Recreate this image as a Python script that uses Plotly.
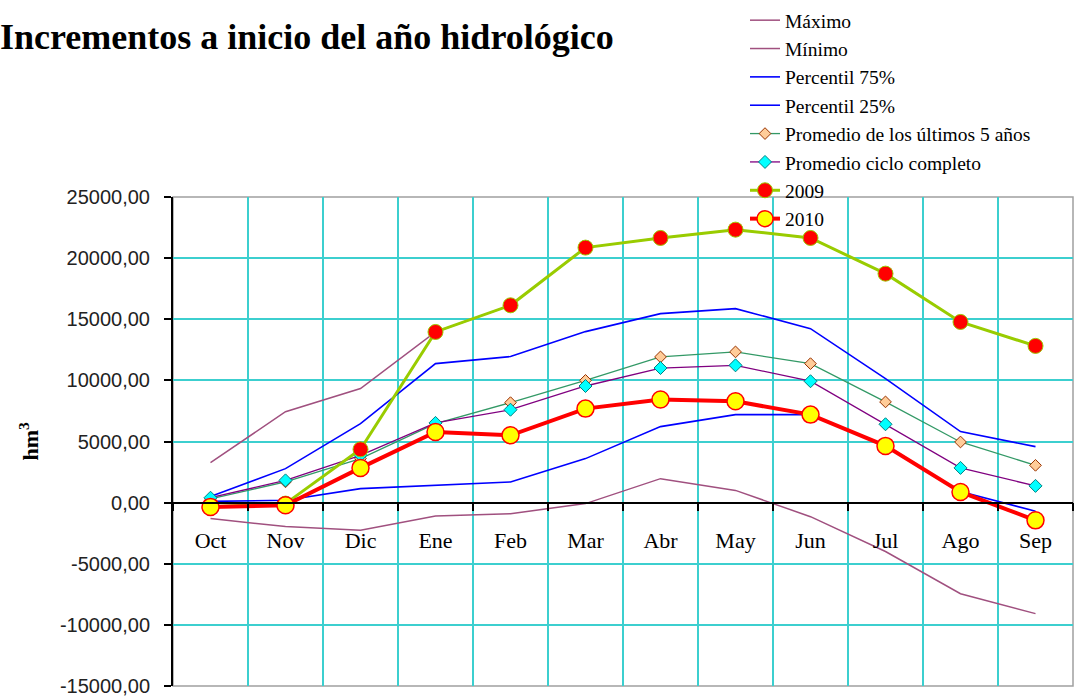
import plotly.graph_objects as go

months = ["Oct", "Nov", "Dic", "Ene", "Feb", "Mar", "Abr", "May", "Jun", "Jul", "Ago", "Sep"]

maximo = [3270, 7440, 9330, 13960, 16140, 20860, 21650, 22330, 21650, 18730, 14780, 12820]
minimo = [-1300, -1960, -2260, -1100, -900, -80, 1960, 1000, -1150, -4000, -7450, -9080]
p75 = [500, 2780, 6460, 11370, 11950, 13990, 15460, 15870, 14230, 10140, 5810, 4580]
p25 = [100, 190, 1145, 1420, 1690, 3600, 6220, 7200, 7200, 4690, 900, -700]
prom5 = [300, 1700, 3600, 6460, 8180, 10000, 11920, 12330, 11370, 8240, 4960, 3050]
prom_ciclo = [400, 1820, 3870, 6520, 7600, 9540, 11010, 11230, 9930, 6410, 2840, 1370]
y2009 = [-330, -80, 4360, 13960, 16140, 20860, 21650, 22330, 21650, 18730, 14780, 12820]
y2010 = [-350, -220, 2840, 5780, 5510, 7690, 8430, 8290, 7200, 4640, 870, -1450]

ytick_vals = [25000, 20000, 15000, 10000, 5000, 0, -5000, -10000, -15000]
ytick_text = ["25000,00", "20000,00", "15000,00", "10000,00", "5000,00", "0,00",
              "-5000,00", "-10000,00", "-15000,00"]

GRID = "#3CCFCF"
MAUVE = "#A0507F"

fig = go.Figure()
fig.add_trace(go.Scatter(x=months, y=maximo, name="Máximo", mode="lines",
                         line=dict(color=MAUVE, width=1.5)))
fig.add_trace(go.Scatter(x=months, y=minimo, name="Mínimo", mode="lines",
                         line=dict(color=MAUVE, width=1.5)))
fig.add_trace(go.Scatter(x=months, y=p75, name="Percentil 75%", mode="lines",
                         line=dict(color="#0000FF", width=1.6)))
fig.add_trace(go.Scatter(x=months, y=p25, name="Percentil 25%", mode="lines",
                         line=dict(color="#0000FF", width=1.6)))
fig.add_trace(go.Scatter(x=months, y=prom5, name="Promedio de los últimos 5 años",
                         mode="lines+markers",
                         line=dict(color="#339966", width=1.3),
                         marker=dict(symbol="diamond", size=9, color="#FFCC99",
                                     line=dict(color="#993300", width=1))))
fig.add_trace(go.Scatter(x=months, y=prom_ciclo, name="Promedio ciclo completo",
                         mode="lines+markers",
                         line=dict(color="#800080", width=1.3),
                         marker=dict(symbol="diamond", size=10, color="#00FFFF",
                                     line=dict(color="#008080", width=1))))
fig.add_trace(go.Scatter(x=months, y=y2009, name="2009", mode="lines+markers",
                         line=dict(color="#99CC00", width=3),
                         marker=dict(symbol="circle", size=15, color="#FF0000",
                                     line=dict(color="#99CC00", width=1))))
fig.add_trace(go.Scatter(x=months, y=y2010, name="2010", mode="lines+markers",
                         line=dict(color="#FF0000", width=4),
                         marker=dict(symbol="circle", size=17, color="#FFFF00",
                                     line=dict(color="#FF0000", width=1.5))))

fig.update_layout(
    width=1076, height=697,
    margin=dict(l=173, r=3, t=197, b=11, autoexpand=False),
    paper_bgcolor="white", plot_bgcolor="white",
    showlegend=True,
    legend=dict(x=(745 - 173) / 900, y=1 + (197 - 1) / 489, xanchor="left", yanchor="top",
                bgcolor="rgba(0,0,0,0)", itemsizing="trace",
                font=dict(family="Liberation Serif", size=19.5, color="black"),
                tracegroupgap=0),
    xaxis=dict(type="category", range=[-0.5, 11.5], tickson="boundaries",
               showgrid=True, gridcolor=GRID, gridwidth=2, automargin=False,
               ticks="outside", ticklen=8, tickcolor="black", tickwidth=1.5,
               showline=True, linecolor="black", linewidth=1.5,
               anchor="free", position=0.375,
               tickfont=dict(family="Liberation Serif", size=22, color="black"),
               ticklabelstandoff=18),
    yaxis=dict(range=[-15000, 25000], tickvals=ytick_vals, ticktext=ytick_text,
               showgrid=True, gridcolor=GRID, gridwidth=2, zeroline=False, automargin=False,
               ticks="outside", ticklen=7, tickcolor="black", tickwidth=1.5,
               showline=True, linecolor="black", linewidth=2,
               tickfont=dict(family="Liberation Sans", size=20, color="#222"),
               ticklabelstandoff=10),
    shapes=[dict(type="rect", xref="paper", yref="paper", x0=0, x1=1, y0=0, y1=1,
                 line=dict(color="#A0A0A0", width=1.5), layer="between")],
    annotations=[
        dict(text="<b>Incrementos a inicio del año hidrológico</b>", xref="paper", yref="paper",
             x=(-2 - 173) / 900, y=1 + (197 - 37) / 489, xanchor="left", yanchor="middle",
             showarrow=False, font=dict(family="Liberation Serif", size=36, color="black")),
        dict(text="<b>hm<sup>3</sup></b>", xref="paper", yref="paper",
             x=(28 - 173) / 900, y=0.5, xanchor="center", yanchor="middle", textangle=-90,
             showarrow=False, font=dict(family="Liberation Serif", size=22, color="black")),
    ],
)

fig.write_html("out.html", config={"displayModeBar": False},
               post_script="document.body.style.margin='0';document.body.style.overflow='hidden';")
